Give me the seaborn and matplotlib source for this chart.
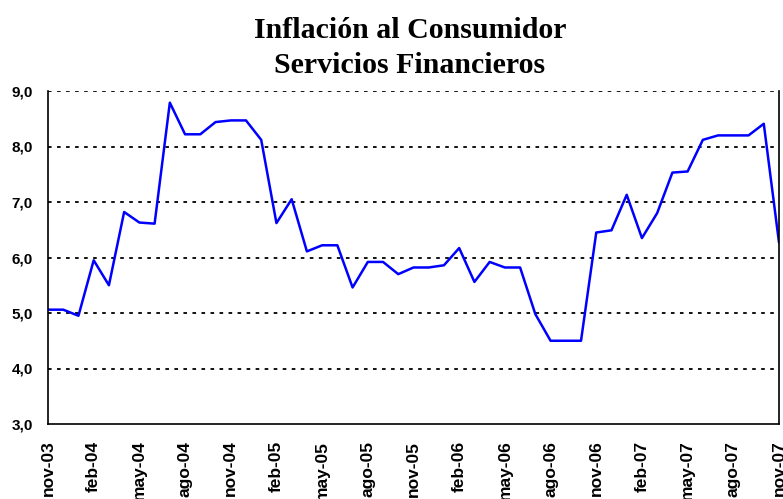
import matplotlib
matplotlib.use("Agg")
import matplotlib.pyplot as plt
import seaborn as sns
import pandas as pd

months = ["nov-03", "dic-03", "ene-04", "feb-04", "mar-04", "abr-04", "may-04", "jun-04", "jul-04",
          "ago-04", "sep-04", "oct-04", "nov-04", "dic-04", "ene-05", "feb-05", "mar-05", "abr-05",
          "may-05", "jun-05", "jul-05", "ago-05", "sep-05", "oct-05", "nov-05", "dic-05", "ene-06",
          "feb-06", "mar-06", "abr-06", "may-06", "jun-06", "jul-06", "ago-06", "sep-06", "oct-06",
          "nov-06", "dic-06", "ene-07", "feb-07", "mar-07", "abr-07", "may-07", "jun-07", "jul-07",
          "ago-07", "sep-07", "oct-07", "nov-07"]
values = [5.06, 5.06, 4.95, 5.95, 5.50, 6.82, 6.63, 6.61, 8.79,
          8.22, 8.22, 8.44, 8.47, 8.47, 8.12, 6.62, 7.05, 6.11,
          6.22, 6.22, 5.46, 5.92, 5.92, 5.70, 5.82, 5.82, 5.86,
          6.17, 5.56, 5.92, 5.82, 5.82, 4.98, 4.50, 4.50, 4.50,
          6.45, 6.49, 7.13, 6.35, 6.80, 7.53, 7.55, 8.12, 8.20,
          8.20, 8.20, 8.41, 6.27]
yticks = [3, 4, 5, 6, 7, 8, 9]
title = "Inflación al Consumidor\nServicios Financieros"

df = pd.DataFrame({"idx": range(len(months)), "mes": months, "valor": values})

sns.set_style("white")
plt.rcParams["text.color"] = "black"
plt.rcParams["xtick.color"] = "black"
plt.rcParams["ytick.color"] = "black"

fig = plt.figure(figsize=(7.83, 4.99), dpi=100)
ax = fig.add_axes([48 / 783, 1 - 424 / 499, (779 - 48) / 783, (424 - 91) / 499])

sns.lineplot(data=df, x="idx", y="valor", ax=ax, color="#0000FF", linewidth=1.8)

ax.set_xlim(0, len(months) - 1)
ax.set_ylim(3, 9)
ax.set_yticks(yticks)
ax.set_yticklabels([f"{v:.1f}".replace(".", ",") for v in yticks])
xt = list(range(0, len(months), 3))
ax.set_xticks(xt)
ax.set_xticklabels([months[i] for i in xt], rotation=90)
for lab in ax.get_yticklabels():
    lab.set_fontfamily("Liberation Sans")
    lab.set_fontweight("bold")
    lab.set_fontsize(11)
    lab.set_color("black")
for lab in ax.get_xticklabels():
    lab.set_fontfamily("Liberation Sans")
    lab.set_fontweight("bold")
    lab.set_fontsize(12.5)
    lab.set_color("black")
ax.set_xlabel("")
ax.set_ylabel("")

for y in yticks[1:]:
    ax.axhline(y, color="black", linestyle=(0, (2, 3)), linewidth=1.3, zorder=0)

ax.spines["top"].set_visible(False)
for s in ["left", "bottom", "right"]:
    ax.spines[s].set_color("black")
    ax.spines[s].set_linewidth(1.2)
ax.tick_params(axis="both", direction="out", length=4, width=1, color="black")
ax.tick_params(axis="y", pad=7)
ax.tick_params(axis="x", pad=8)

fig.text(410 / 783, 1 - 48 / 499, title, ha="center", va="center",
         fontfamily="Liberation Serif", fontweight="bold", fontsize=21.5,
         linespacing=1.4, color="black")

fig.savefig("out.png", dpi=100, facecolor="white")
